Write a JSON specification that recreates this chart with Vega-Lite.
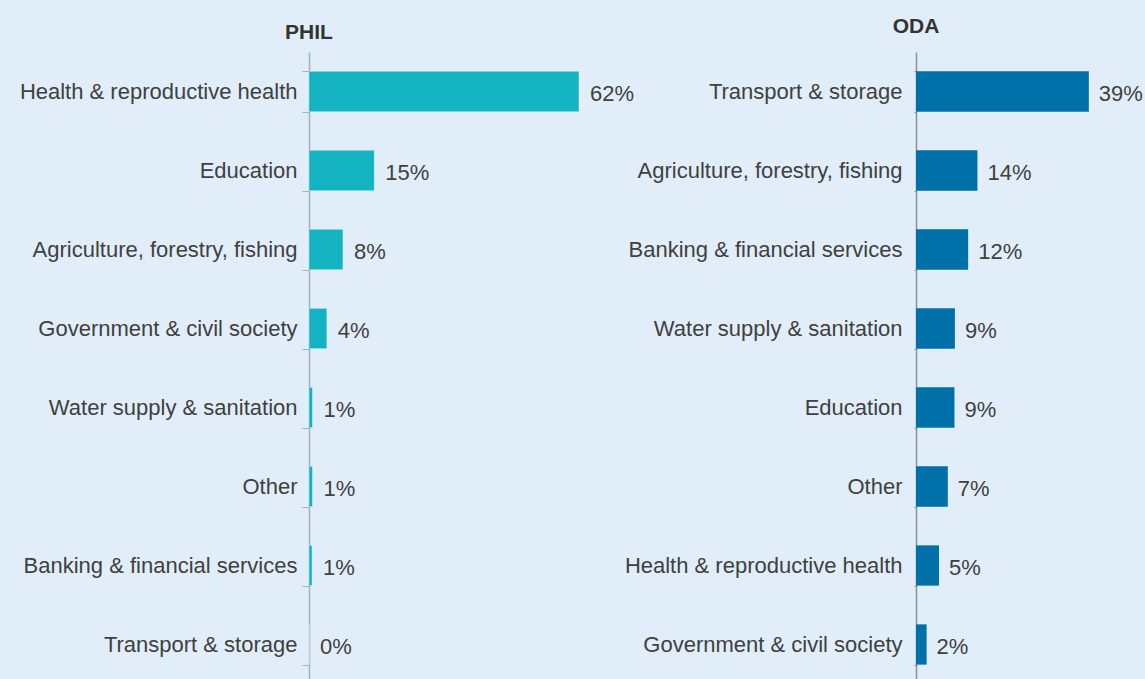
{
  "$schema": "https://vega.github.io/schema/vega-lite/v6.json",
  "background": "#e1eef9",
  "padding": {"left": 19, "top": 16, "right": 30, "bottom": 0},
  "autosize": {"type": "pad"},
  "bounds": "flush",
  "spacing": 307,
  "config": {
    "view": {"stroke": null},
    "font": "Liberation Sans",
    "axis": {"labelFont": "Liberation Sans"},
    "title": {"font": "Liberation Sans"}
  },
  "datasets": {
    "phil": [
      {"sector": "Health & reproductive health", "value": 0.62},
      {"sector": "Education", "value": 0.15},
      {"sector": "Agriculture, forestry, fishing", "value": 0.078},
      {"sector": "Government & civil society", "value": 0.041},
      {"sector": "Water supply & sanitation", "value": 0.008},
      {"sector": "Other", "value": 0.008},
      {"sector": "Banking & financial services", "value": 0.007},
      {"sector": "Transport & storage", "value": 0.0}
    ],
    "oda": [
      {"sector": "Transport & storage", "value": 0.391},
      {"sector": "Agriculture, forestry, fishing", "value": 0.139},
      {"sector": "Banking & financial services", "value": 0.118},
      {"sector": "Water supply & sanitation", "value": 0.088},
      {"sector": "Education", "value": 0.087},
      {"sector": "Other", "value": 0.072},
      {"sector": "Health & reproductive health", "value": 0.052},
      {"sector": "Government & civil society", "value": 0.024}
    ]
  },
  "hconcat": [
    {
      "data": {"name": "phil"},
      "width": 300,
      "height": 632,
      "title": {"text": "PHIL", "anchor": "start", "align": "center", "baseline": "alphabetic", "offset": -19, "fontSize": 21, "fontWeight": "bold", "color": "#333333", "frame": "group"},
      "encoding": {
        "y": {
          "field": "sector", "type": "nominal", "sort": null,
          "scale": {"paddingInner": 0.49, "paddingOuter": 0.245},
          "axis": {"title": null, "tickBand": "extent", "tickSize": 7, "labelPadding": 5, "labelFontSize": 22, "labelColor": "#404040", "domainColor": "#a9afb5", "tickColor": "#a9afb5", "domainWidth": 1.5, "tickWidth": 1, "labelLimit": 400}
        },
        "x": {"field": "value", "type": "quantitative", "scale": {"domain": [0, 0.689]}, "axis": null}
      },
      "layer": [
        {"mark": {"type": "bar", "color": "#13b3c2", "stroke": "#ffffff", "strokeOpacity": 0.35, "strokeWidth": 1}},
        {"mark": {"type": "text", "align": "left", "baseline": "middle", "dx": 11, "dy": 2, "fontSize": 22, "color": "#404040"},
         "encoding": {"text": {"field": "value", "type": "quantitative", "format": ".0%"}}}
      ]
    },
    {
      "data": {"name": "oda"},
      "width": 220,
      "height": 632,
      "title": {"text": "ODA", "anchor": "start", "align": "center", "baseline": "alphabetic", "offset": -13, "fontSize": 21, "fontWeight": "bold", "color": "#333333", "frame": "group"},
      "encoding": {
        "y": {
          "field": "sector", "type": "nominal", "sort": null,
          "scale": {"paddingInner": 0.49, "paddingOuter": 0.245},
          "axis": {"title": null, "tickBand": "extent", "tickSize": 2, "labelPadding": 12, "labelFontSize": 22, "labelColor": "#404040", "domainColor": "#8a9096", "tickColor": "#8a9096", "domainWidth": 1.5, "tickWidth": 1, "labelLimit": 400}
        },
        "x": {"field": "value", "type": "quantitative", "scale": {"domain": [0, 0.4977]}, "axis": null}
      },
      "layer": [
        {"mark": {"type": "bar", "color": "#0071a8"}},
        {"mark": {"type": "text", "align": "left", "baseline": "middle", "dx": 10, "dy": 2, "fontSize": 22, "color": "#404040"},
         "encoding": {"text": {"field": "value", "type": "quantitative", "format": ".0%"}}}
      ]
    }
  ]
}
